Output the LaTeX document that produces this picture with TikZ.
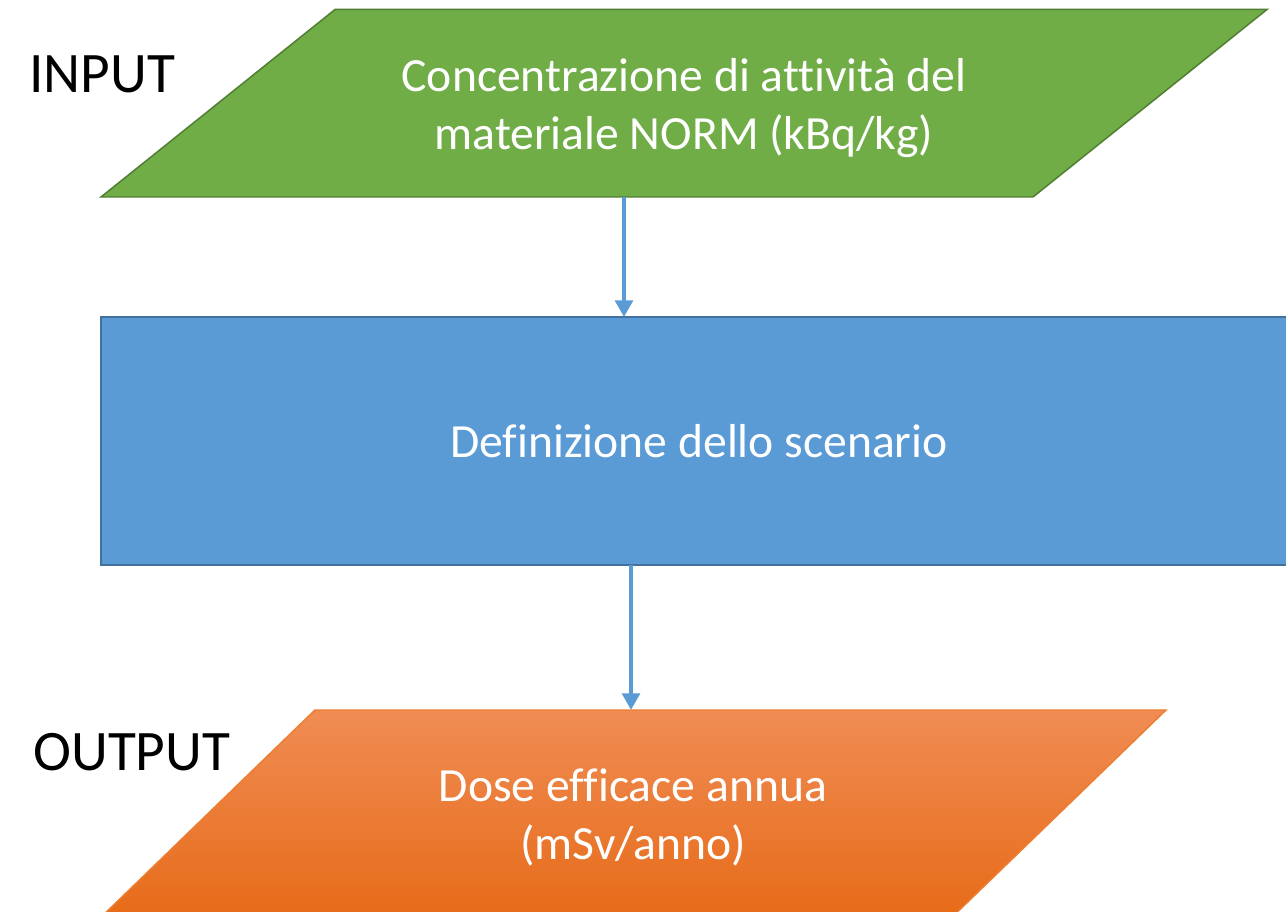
\documentclass[tikz,border=0pt]{standalone}
\usepackage{fontspec}
\setmainfont{Carlito}[Ligatures=NoCommon]
\usetikzlibrary{arrows.meta}
\definecolor{ingreen}{HTML}{70AD47}
\definecolor{ingreendark}{HTML}{507E32}
\definecolor{scenblue}{HTML}{5B9BD5}
\definecolor{scenbluedark}{HTML}{41719C}
\definecolor{outtop}{RGB}{240,140,84}
\definecolor{outbot}{RGB}{230,106,22}
\definecolor{outline}{RGB}{237,125,49}
\begin{document}
\begin{tikzpicture}[x=0.02cm,y=-0.02cm,
    boxtext/.style={text=white,align=center,font=\fontsize{27.1}{33}\selectfont},
    side/.style={font=\fontsize{32.6}{39}\selectfont,inner sep=0pt,anchor=base west},
    border/.style={line width=0.85pt,line join=miter},
    arr/.style={-{Triangle[width=10pt,length=9.5pt]},line width=2.6pt,draw=scenblue}]
        \useasboundingbox (0,0) rectangle (1286,912);
        \clip (0,0) rectangle (1286,912);
        % input parallelogram
        \coordinate (inbl) at (101,197);
        \coordinate (inbr) at (1033,197);
        \coordinate (intr) at (1267,9.5);
        \coordinate (intl) at (335,9.5);
        \filldraw[border,fill=ingreen,draw=ingreendark] (inbl) -- (inbr) -- (intr) -- (intl) -- cycle;
        \node[boxtext] (input) at (684,108) {Concentrazione di attività del\\materiale NORM (kBq/kg)};
        % scenario box
        \node[boxtext,shape=rectangle,fill=scenblue,draw=scenbluedark,border,inner sep=0pt,outer sep=0pt,minimum width=23.92cm,minimum height=4.96cm] (scen) at (699,441) {Definizione dello scenario};
        % output parallelogram
        \coordinate (outbl) at (94,924);
        \coordinate (outbr) at (945,924);
        \coordinate (outtr) at (1166,710);
        \coordinate (outtl) at (315,710);
        \shadedraw[border,top color=outtop,bottom color=outbot,draw=outline] (outbl) -- (outbr) -- (outtr) -- (outtl) -- cycle;
        \node[boxtext] (output) at (633,817) {Dose efficace annua\\(mSv/anno)};
        \node[side] (inlbl) at (29,93) {INPUT};
        \node[side] (outlbl) at (33,770) {OUTPUT};
        % arrows
        \coordinate (a1) at (624,0);
        \coordinate (a2) at (631,0);
        \draw[arr] (a1 |- inbl) -- (a1 |- scen.north);
        \draw[arr] (scen.south -| a2) -- (a2 |- outtl);
\end{tikzpicture}
\end{document}
